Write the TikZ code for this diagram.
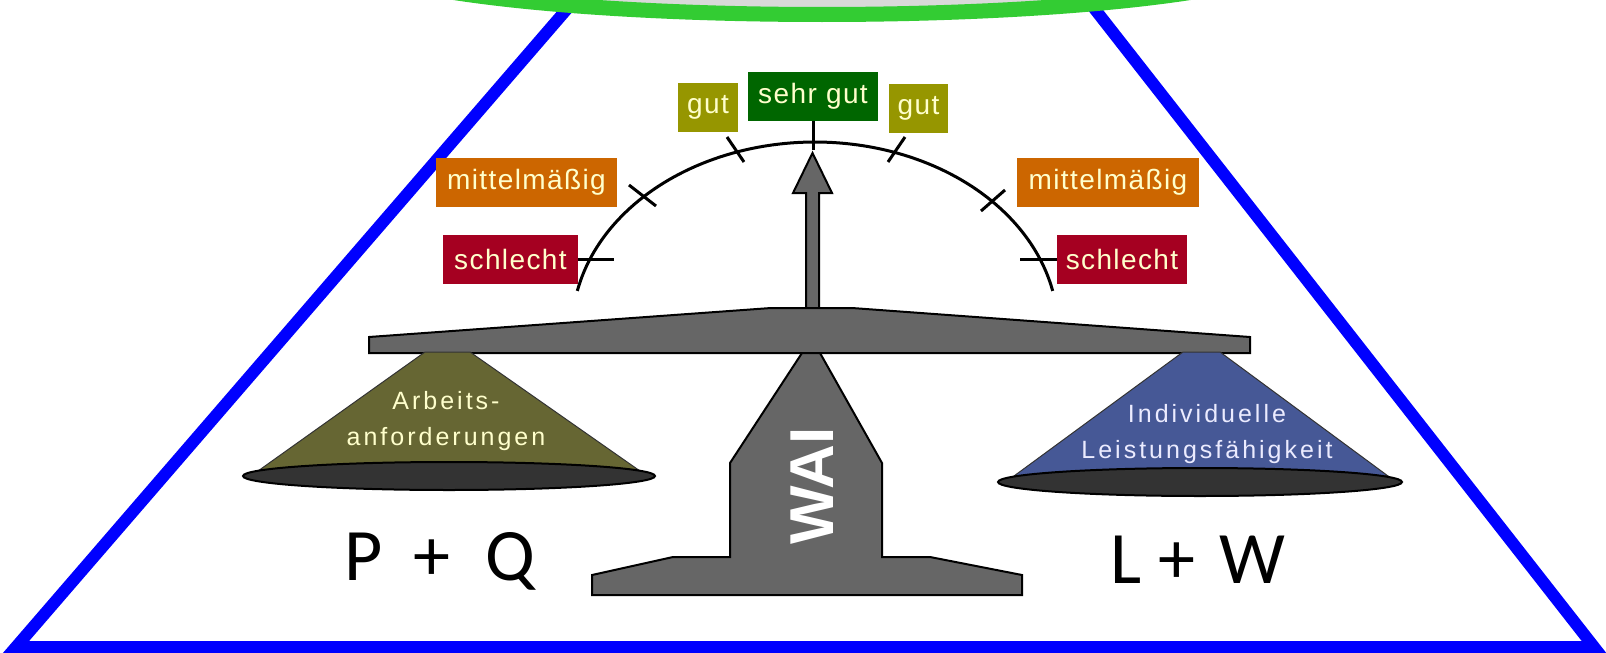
\documentclass[tikz,border=0pt]{standalone}
\usepackage{fontspec}
\setmainfont{Liberation Sans}
\newfontfamily\boxfont{Liberation Sans}[LetterSpace=5]
\newfontfamily\panfont{Liberation Sans}[LetterSpace=12]
\newfontfamily\calfont{Carlito}

\definecolor{triblue}{RGB}{0,0,255}
\definecolor{capgreen}{RGB}{51,204,51}
\definecolor{capgrey}{RGB}{217,217,217}
\definecolor{badred}{RGB}{165,0,33}
\definecolor{midorange}{RGB}{204,102,0}
\definecolor{goodolive}{RGB}{150,150,0}
\definecolor{bestgreen}{RGB}{0,102,0}
\definecolor{labeltext}{RGB}{255,255,204}
\definecolor{metal}{RGB}{102,102,102}
\definecolor{panolive}{RGB}{102,102,51}
\definecolor{panblue}{RGB}{70,88,150}
\definecolor{pandark}{RGB}{51,51,51}

\begin{document}
\begin{tikzpicture}[x=1pt,y=-1pt,
  labelbox/.style={inner sep=0pt, minimum height=49pt, text=labeltext,
    font=\boxfont\fontsize{28}{30}\selectfont},
  tickline/.style={line width=3pt, black},
  metalpart/.style={fill=metal, draw=black, line width=2pt, line join=miter},
  pantext/.style={inner sep=0pt, align=center,
    font=\panfont\fontsize{25}{36}\selectfont},
  bigtext/.style={inner sep=0pt, anchor=base, font=\calfont\fontsize{74}{80}\selectfont}]

\useasboundingbox (0,0) rectangle (1606,653);
\clip (0,0) rectangle (1606,653);
\fill[white] (0,0) rectangle (1606,653);

% outer triangle
\coordinate (topL) at (592,-20);
\coordinate (botL) at (16,647);
\coordinate (botR) at (1594,647);
\coordinate (topR) at (1072,-20);
\draw[triblue, line width=12pt, line join=miter] (topL) -- (botL) -- (botR) -- (topR);

% cap ellipse
\draw[capgreen, fill=capgrey, line width=15pt] (822,-45) ellipse [x radius=474, y radius=59.5];

% dial arc
\draw[line width=3pt] plot[domain=-168:-12, samples=100] ({815+243*cos(\x)},{330+188*sin(\x)});

% dial ticks
\draw[tickline] (578,259) -- (614,259);
\draw[tickline] (629,185) -- (656,206);
\draw[tickline] (727,137) -- (744,162);
\draw[tickline] (905,137) -- (888,162);
\draw[tickline] (1005,190) -- (981,211);
\draw[tickline] (1020,259) -- (1058,259);

% rating labels
\node[labelbox, fill=badred, minimum width=135pt] (badL) at (510.5,259.5) {schlecht};
\node[labelbox, fill=midorange, minimum width=181pt] (midL) at (526.5,182.5) {mittelmäßig};
\node[labelbox, fill=goodolive, minimum width=60pt] (goodL) at (708,107.5) {gut};
\node[labelbox, fill=bestgreen, minimum width=130pt] (best) at (813,96.5) {sehr gut};
\node[labelbox, fill=goodolive, minimum width=59pt] (goodR) at (918.5,108.5) {gut};
\node[labelbox, fill=midorange, minimum width=182pt] (midR) at (1108,182.5) {mittelmäßig};
\node[labelbox, fill=badred, minimum width=130pt] (badR) at (1122,259.5) {schlecht};

\coordinate (dialtop) at (813,150);
\draw[tickline] (best.south) -- (dialtop);

% pointer
\filldraw[metalpart] (806,310) -- (806,193) -- (793,193) -- (812.5,153) -- (832,193) -- (819,193) -- (819,310);

% beam
\filldraw[metalpart] (369,337) -- (771,308) -- (852,308) -- (1250,337) -- (1250,353) -- (369,353) -- cycle;

% left pan
\filldraw[fill=panolive, draw=black!80, line width=1pt] (425,352) -- (470,352) -- (640,471) -- (258,471) -- cycle;
\filldraw[fill=pandark, draw=black, line width=2pt] (449,476) ellipse [x radius=206, y radius=14];

% right pan
\filldraw[fill=panblue, draw=black!80, line width=1pt] (1183,352) -- (1220,352) -- (1388,476) -- (1014,476) -- cycle;
\filldraw[fill=pandark, draw=black, line width=2pt] (1200,482) ellipse [x radius=202, y radius=14];

% stand
\filldraw[metalpart] (802,353) -- (820,353) -- (882,463) -- (882,557) -- (930,557) -- (1022,575)
  -- (1022,595) -- (592,595) -- (592,575) -- (673,557) -- (730,557) -- (730,463) -- cycle;

% texts
\node[pantext, text=labeltext] (demand) at (446,421) {Arbeits-\\anforderungen};
\node[pantext, text=white!92!blue] (ability) at (1207,434) {Individuelle\\Leistungsfähigkeit};
\node[inner sep=0pt, rotate=90, text=white, font=\bfseries\fontsize{62}{64}\selectfont] (wai) at (812,486) {WAI};
\node[bigtext] (pq) at (440,580) {P\kern14pt\ +\kern19pt\ Q};
\node[bigtext] (lw) at (1198,583) {L\ +\kern7pt\ W};

\end{tikzpicture}
\end{document}
